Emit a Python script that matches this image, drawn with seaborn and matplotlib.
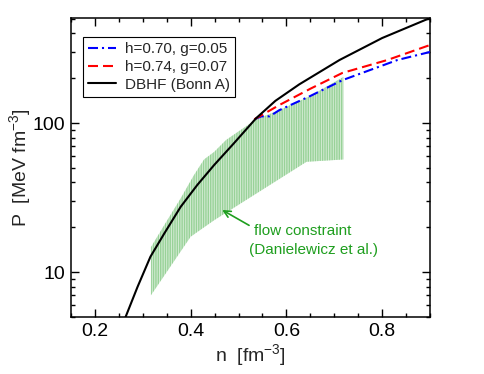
import matplotlib
matplotlib.use("Agg")
import matplotlib.pyplot as plt
import matplotlib.ticker as mticker
import numpy as np
import pandas as pd
import seaborn as sns

# DBHF (Bonn A)
n_dbhf = [0.264, 0.289, 0.316, 0.345, 0.379, 0.414, 0.449, 0.49, 0.537, 0.577, 0.627, 0.711, 0.80, 0.90]
p_dbhf = [5.0, 7.96, 12.7, 18.2, 27.4, 38.5, 52.3, 73, 108, 141, 182, 265, 372, 507]

# h=0.74, g=0.07
n_red = [0.533, 0.585, 0.65, 0.717, 0.811, 0.90]
p_red = [106, 132, 170, 217, 265, 334]

# h=0.70, g=0.05
n_blue = [0.533, 0.548, 0.565, 0.585, 0.65, 0.717, 0.832, 0.90]
p_blue = [106, 111, 111, 122, 152, 194, 265, 300]

# flow constraint band (Danielewicz et al.)
n_band_up = [0.317, 0.345, 0.379, 0.407, 0.428, 0.449, 0.474, 0.537, 0.585, 0.65, 0.719]
p_band_up = [14.7, 20.7, 31.2, 44.8, 57, 64, 77, 106, 122, 152, 204]
n_band_lo = [0.317, 0.40, 0.449, 0.642, 0.719]
p_band_lo = [7.0, 17.3, 22.3, 55, 57]

labels = ["h=0.70, g=0.05", "h=0.74, g=0.07", "DBHF (Bonn A)"]
band_text = ["flow constraint", "(Danielewicz et al.)"]

sns.set_theme(style="ticks")
plt.rcParams['font.family'] = ['Liberation Sans', 'DejaVu Sans']
plt.rcParams['mathtext.fontset'] = 'custom'
plt.rcParams['mathtext.rm'] = 'Liberation Sans'
plt.rcParams['mathtext.default'] = 'regular'
plt.rcParams['hatch.linewidth'] = 1.0

green = "#1e9e1e"

fig = plt.figure(figsize=(4.84, 3.74), dpi=100)
ax = fig.add_axes([71 / 484, 1 - 317 / 374, 359 / 484, 299 / 374])

# band
poly_x = n_band_up + n_band_lo[::-1]
poly_y = p_band_up + p_band_lo[::-1]
ax.fill(poly_x, poly_y, facecolor="#d4ecd4", edgecolor="#98d298",
        hatch="|||||||", linewidth=0, zorder=1)

df_blue = pd.DataFrame({"n": n_blue, "P": p_blue})
df_red = pd.DataFrame({"n": n_red, "P": p_red})
df_dbhf = pd.DataFrame({"n": n_dbhf, "P": p_dbhf})

sns.lineplot(data=df_blue, x="n", y="P", ax=ax, color="#0000ff", lw=1.5,
             linestyle=(0, (4.8, 1.9, 1.0, 1.9)), label=labels[0], sort=False, zorder=3)
sns.lineplot(data=df_red, x="n", y="P", ax=ax, color="#ff0000", lw=1.5,
             linestyle=(0, (4.8, 2.4)), label=labels[1], sort=False, zorder=3)
sns.lineplot(data=df_dbhf, x="n", y="P", ax=ax, color="black", lw=1.5,
             label=labels[2], sort=False, zorder=4)

ax.set_yscale("log")
ax.set_xlim(0.15, 0.9)
ax.set_ylim(5, 507)

ax.xaxis.set_major_locator(mticker.MultipleLocator(0.2))
ax.xaxis.set_minor_locator(mticker.MultipleLocator(0.05))
ax.xaxis.set_major_formatter(mticker.FormatStrFormatter("%.1f"))
ax.yaxis.set_major_locator(mticker.FixedLocator([10, 100]))
ax.yaxis.set_major_formatter(mticker.FixedFormatter(["10", "100"]))
ax.yaxis.set_minor_locator(mticker.LogLocator(base=10, subs=np.arange(2, 10)))
ax.yaxis.set_minor_formatter(mticker.NullFormatter())

ax.tick_params(which="both", direction="in", top=True, right=True,
               labelsize=14, colors="black", width=1.0)
ax.tick_params(which="major", length=6, pad=4)
ax.tick_params(which="minor", length=3)
for sp in ax.spines.values():
    sp.set_linewidth(1.1)
    sp.set_color("black")

ax.set_xlabel("n  [fm$^{-3}$]", fontsize=14, labelpad=2)
ax.set_ylabel("P  [MeV fm$^{-3}$]", fontsize=14, labelpad=0)

# annotation: arrow + two text lines
ax.annotate("", xy=(0.466, 26.1), xytext=(0.522, 20.6),
            arrowprops=dict(arrowstyle="->", color=green, lw=1.2,
                            shrinkA=0, shrinkB=0))
ax.text(0.533, 17.7, band_text[0], fontsize=11, color=green,
        ha="left", va="baseline")
ax.text(0.5225, 13.2, band_text[1], fontsize=11, color=green,
        ha="left", va="baseline")

leg = ax.legend(loc="upper left", bbox_to_anchor=(0.033, 0.937),
                borderaxespad=0, fontsize=11, frameon=True, fancybox=False,
                framealpha=1, edgecolor="black", handlelength=1.8,
                handletextpad=0.6, labelspacing=0.25, borderpad=0.35)
leg.get_frame().set_linewidth(0.8)

plt.savefig("out.png", dpi=100)
